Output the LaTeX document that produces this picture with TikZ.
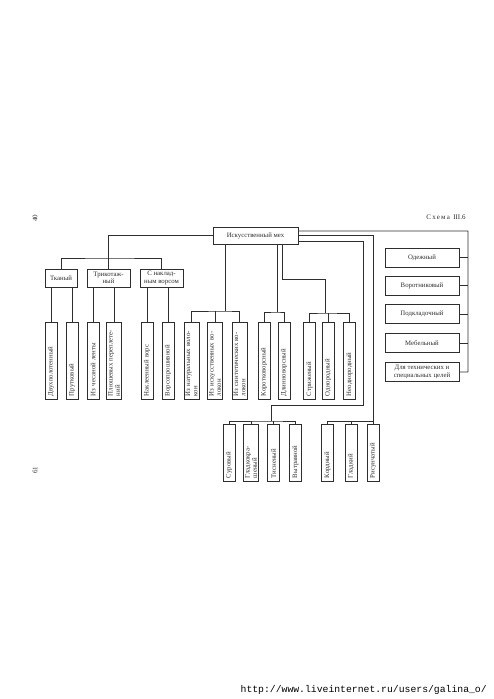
\documentclass[tikz,border=0pt]{standalone}
\usepackage{fontspec}
\setmainfont{Liberation Serif}
\setmonofont{Liberation Mono}
\usepackage{tikz}
\usetikzlibrary{positioning, calc}
\definecolor{inkgray}{HTML}{2E2E2E}
\newcommand{\schemefont}{\fontsize{6.8}{7.2}\selectfont}

\begin{document}
\begin{tikzpicture}[x=1bp, y=-1bp, line width=0.65bp, draw=inkgray, text=inkgray,
    mainbox/.style={draw, minimum width=85bp, minimum height=17bp, inner sep=1bp, font=\schemefont},
    kindbox/.style={draw, minimum height=18bp, inner sep=1bp, align=center, font=\schemefont},
    tallbox/.style={draw, rotate=90, text width=71bp, minimum height=12bp, inner xsep=3bp, inner ysep=1.5bp, align=left, font=\schemefont},
    shortbox/.style={tallbox, text width=51bp},
    purposebox/.style={draw, minimum width=74bp, minimum height=19bp, inner sep=1bp, align=center, font=\schemefont}]
    \useasboundingbox[fill=white] (0,0) rectangle (494,699);

    \node[rotate=90, font=\fontsize{7}{8}\selectfont] (pagetop) at (35,218) {40};
    \node[rotate=90, font=\fontsize{7}{8}\selectfont] (pagebottom) at (35,470) {61};
    \node[font=\fontsize{7}{8}\selectfont] (caption) at (446,217) {С\,х\,е\,м\,а\ \ III.6};

    \node[mainbox] (root) at (255.5,235.5) {Искусственный мех};

    \node[kindbox, minimum width=32bp] (woven) at (61,278) {Тканый};
    \node[kindbox, minimum width=43bp] (knitted) at (108.5,278) {Трикотаж-\\ный};
    \node[kindbox, minimum width=43bp] (tufted) at (161.5,278) {С наклад-\\ным ворсом};

    \node[tallbox] (doublecloth) at (51,360.5) {Двухполотенный};
    \node[tallbox] (rodpile) at (72,360.5) {Прутковый};
    \node[tallbox] (sliver) at (93,360.5) {Из чесаной ленты};
    \node[tallbox] (plush) at (114,360.5) {Плюшевых переплете-\\ний};
    \node[tallbox] (glued) at (147,360.5) {Наклеенный ворс};
    \node[tallbox] (stitched) at (168,360.5) {Ворсопрошивной};
    \node[tallbox] (natural) at (191.5,360.5) {Из натуральных воло-\\кон};
    \node[tallbox] (artificial) at (215,360.5) {Из искусственных во-\\локон};
    \node[tallbox] (synthetic) at (239.5,360.5) {Из синтетических во-\\локон};
    \node[tallbox] (shortpile) at (264,360.5) {Коротковорсный};
    \node[tallbox] (longpile) at (284,360.5) {Длинноворсный};
    \node[tallbox] (sheared) at (309.5,360.5) {Стриженый};
    \node[tallbox] (uniform) at (328,360.5) {Однородный};
    \node[tallbox] (nonuniform) at (349.5,360.5) {Неоднородный};

    \node[shortbox] (raw) at (229,452.5) {Суровый};
    \node[shortbox] (dyed) at (251,452.5) {Гладкокра-\\шеный};
    \node[shortbox] (embossed) at (273.5,452.5) {Тисненый};
    \node[shortbox] (etched) at (295.5,452.5) {Вытравной};
    \node[shortbox] (cord) at (327.5,452.5) {Кордный};
    \node[shortbox] (plain) at (351,452.5) {Гладкий};
    \node[shortbox] (patterned) at (373,452.5) {Рисунчатый};

    \node[purposebox] (clothing) at (422,257.5) {Одежный};
    \node[purposebox] (collar) at (422,285.5) {Воротниковый};
    \node[purposebox] (lining) at (422,314) {Подкладочный};
    \node[purposebox] (furniture) at (422,343) {Мебельный};
    \node[purposebox] (special) at (422,372) {Для технических и\\специальных целей};

    \coordinate (kindbar) at (108.5,258);
    \coordinate (fibrebar) at (225,311);
    \coordinate (pilebar) at (277,312);
    \coordinate (shearturn) at (282,279.5);
    \coordinate (shearbar) at (325,313);
    \coordinate (usecorner) at (468,231);
    \coordinate (finishdrop) at (363,405);
    \coordinate (finishbar) at (271,421);
    \coordinate (surfacebar) at (373,421);

    \draw (root.west) -| (knitted.north);
    \draw (woven.north) |- (kindbar) -| (tufted.north);
    \foreach \leaf/\parentnode in {doublecloth/woven, rodpile/woven, sliver/knitted, plush/knitted, glued/tufted, stitched/tufted}
        \draw (\leaf.east) -- (\leaf.east |- \parentnode.south);

    \draw (root.south -| fibrebar) -- (fibrebar);
    \draw (natural.east) |- (fibrebar) -| (synthetic.east);
    \draw (artificial.east) -- (artificial.east |- fibrebar);

    \draw (root.south -| pilebar) -- (pilebar);
    \draw (shortpile.east) |- (pilebar) -| (longpile.east);

    \draw (root.south -| shearturn) -- (shearturn) -| (shearbar);
    \draw (sheared.east) |- (shearbar) -| (nonuniform.east);
    \draw (uniform.east) -- (uniform.east |- shearbar);

    \draw ([yshift=4.5bp]root.east) -- (usecorner) |- (special.east);
    \foreach \purpose in {clothing, collar, lining, furniture}
        \draw (\purpose.east) -- (\purpose.east -| usecorner);

    \draw ([yshift=-5.5bp]root.east) -| (finishdrop) -| (finishbar);
    \draw (raw.east) |- (finishbar) -| (etched.east);
    \draw (dyed.east) -- (dyed.east |- finishbar);
    \draw (embossed.east) -- (embossed.east |- finishbar);

    \draw (root.east) -| (patterned.east);
    \draw (cord.east) |- (surfacebar);
    \draw (plain.east) -- (plain.east |- surfacebar);

    \node[font=\ttfamily\fontsize{9.8}{10}\selectfont, anchor=west, text=black] (watermark) at (237,690) {http://www.liveinternet.ru/users/galina\_o/};
\end{tikzpicture}
\end{document}
